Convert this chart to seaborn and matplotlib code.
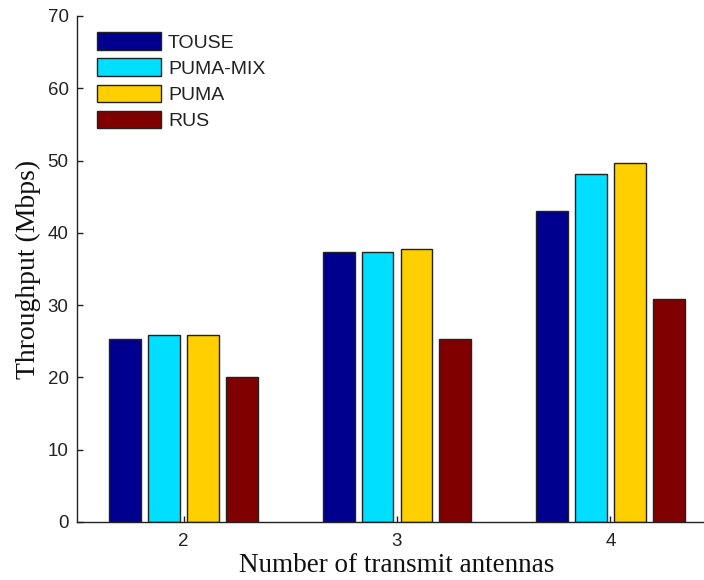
import matplotlib
matplotlib.use("Agg")
import matplotlib.pyplot as plt
import seaborn as sns
import pandas as pd

# Throughput per scheme for 2, 3 and 4 transmit antennas
antennas = ["2", "3", "4"]
schemes = ["TOUSE", "PUMA-MIX", "PUMA", "RUS"]
touse = [25.3, 37.4, 43.0]
puma_mix = [25.9, 37.4, 48.1]
puma = [25.9, 37.8, 49.6]
rus = [20.0, 25.3, 30.8]
colors = ["#00008F", "#00DFFF", "#FFCF00", "#800000"]

series = {"TOUSE": touse, "PUMA-MIX": puma_mix, "PUMA": puma, "RUS": rus}
rows = []
for name in schemes:
    for a, v in zip(antennas, series[name]):
        rows.append({"antennas": a, "scheme": name, "throughput": v})
df = pd.DataFrame(rows)

sns.set_style("white")
plt.rcParams["font.family"] = ["Liberation Sans", "DejaVu Sans"]

fig = plt.figure(figsize=(7.04, 5.80), dpi=100)
ax = fig.add_axes([77 / 704, 58 / 580, 640 / 704, 506 / 580])

sns.barplot(data=df, x="antennas", y="throughput", hue="scheme",
            hue_order=schemes, palette=colors, order=antennas,
            saturation=1, width=0.73, gap=0.18, edgecolor="#222222",
            linewidth=1.0, errorbar=None, ax=ax)

ax.set_xlim(-0.5, 2.5)
ax.set_ylim(0, 70)
ax.set_yticks(range(0, 71, 10))
ax.tick_params(axis="both", direction="in", length=4, width=1,
               bottom=True, left=True, labelsize=13.5,
               colors="#222222", pad=6)
ax.tick_params(axis="x", pad=8)
for side in ("top", "right"):
    ax.spines[side].set_visible(False)
for side in ("left", "bottom"):
    ax.spines[side].set_color("#222222")
    ax.spines[side].set_linewidth(1.0)

ax.set_xlabel("Number of transmit antennas", fontfamily="Liberation Serif",
              fontsize=19.5, color="#111111", labelpad=2)
ax.set_ylabel("Throughput (Mbps)", fontfamily="Liberation Serif",
              fontsize=20, color="#111111", labelpad=5)

leg = ax.legend(loc="upper left", bbox_to_anchor=(0.031, 0.968),
                frameon=False, fontsize=14, handlelength=3.3,
                handleheight=1.0, handletextpad=0.36, labelspacing=0.35,
                borderpad=0, borderaxespad=0)
for t in leg.get_texts():
    t.set_color("#222222")

fig.savefig("out.png", dpi=100)
